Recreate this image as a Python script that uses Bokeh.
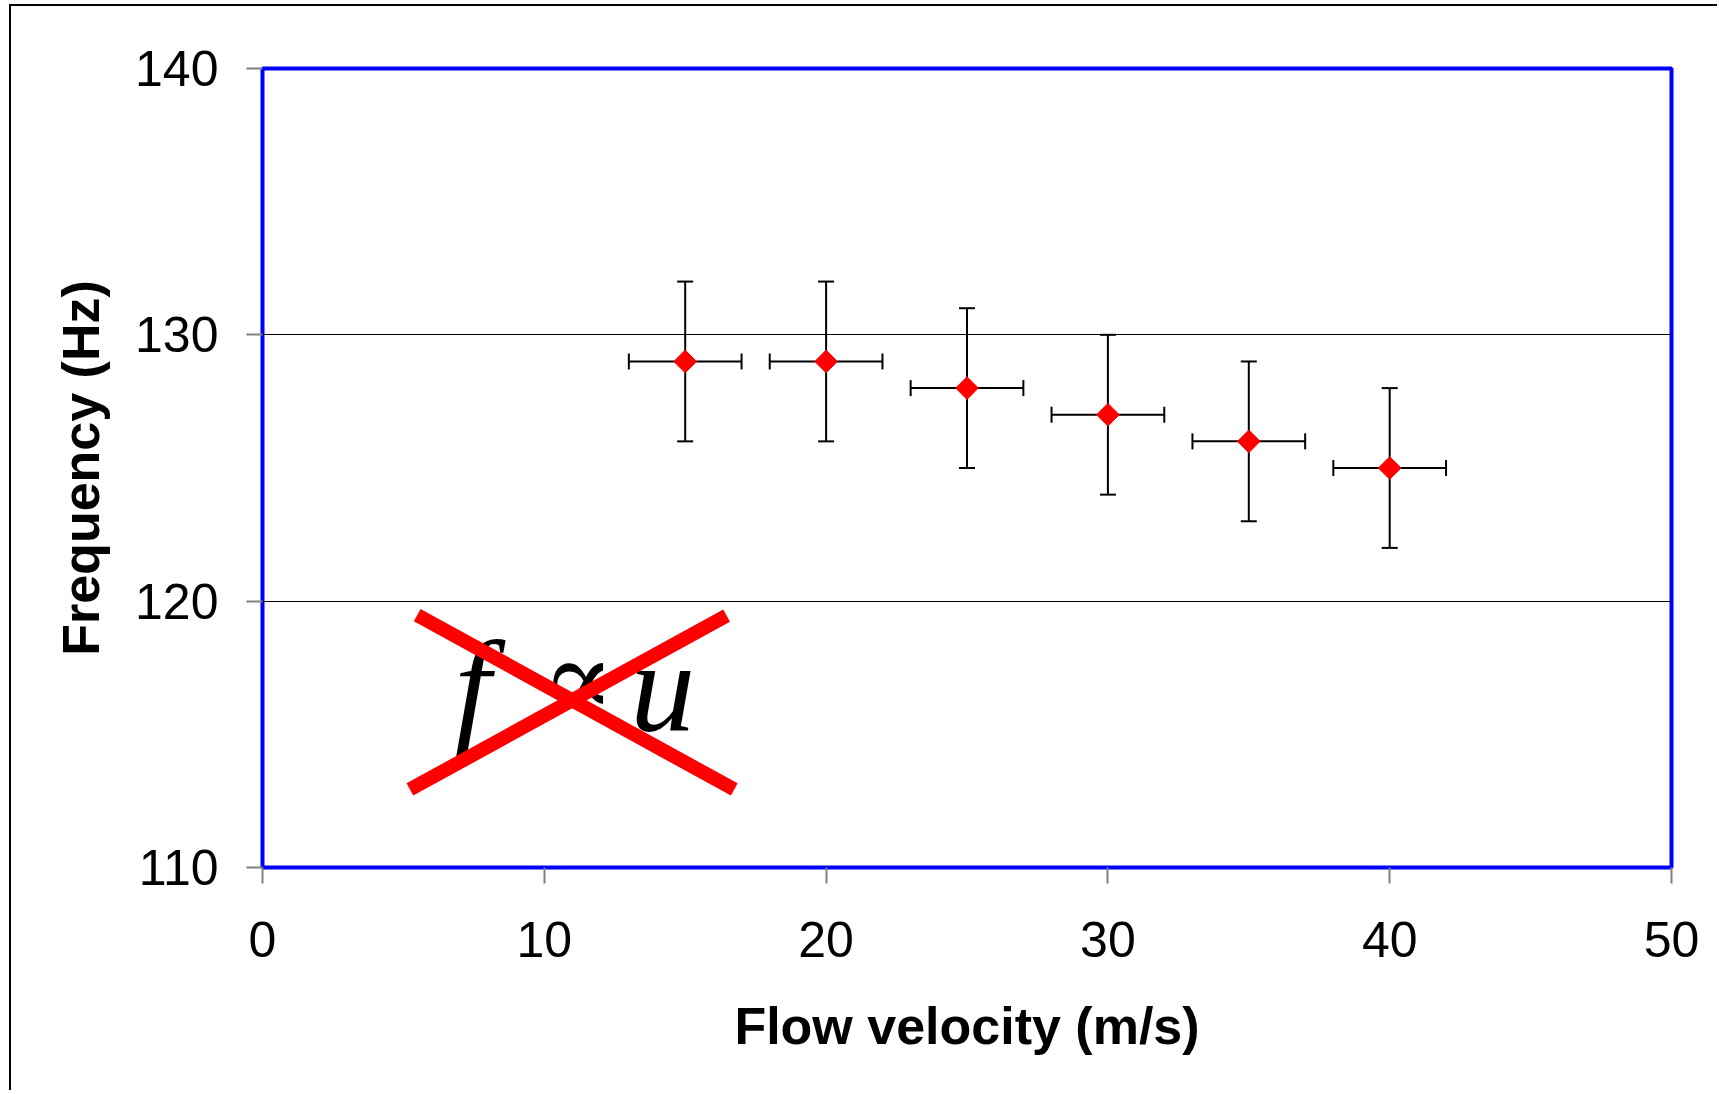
from bokeh.plotting import figure
from bokeh.models import ColumnDataSource, Whisker, TeeHead, FixedTicker, Range1d
from bokeh.core.properties import value
from bokeh.embed import file_html
from bokeh.resources import INLINE

# ---- data ----
velocity = [15, 20, 25, 30, 35, 40]
frequency = [129, 129, 128, 127, 126, 125]
freq_err = [3, 3, 3, 3, 3, 3]
vel_err = [2, 2, 2, 2, 2, 2]

x_ticks = [0, 10, 20, 30, 40, 50]
y_ticks = [110, 120, 130, 140]

# annotation "f ∝ u" crossed out
letter_text = ["f", "u"]
letter_x = [7.45, 14.2]
letter_y = [116.8, 116.8]
prop_text = ["\u221d"]
prop_x = [11.2]
prop_y = [117.1]
cross_x0 = [5.49, 5.23]
cross_y0 = [119.48, 112.93]
cross_x1 = [16.74, 16.47]
cross_y1 = [112.93, 119.46]

src = ColumnDataSource(data=dict(
    x=velocity, y=frequency,
    ylo=[f - e for f, e in zip(frequency, freq_err)],
    yhi=[f + e for f, e in zip(frequency, freq_err)],
    xlo=[v - e for v, e in zip(velocity, vel_err)],
    xhi=[v + e for v, e in zip(velocity, vel_err)],
))

p = figure(width=1708, height=1086, output_backend="svg", toolbar_location=None,
           x_range=Range1d(0, 50), y_range=Range1d(110, 140),
           min_border_left=251, min_border_right=48, min_border_top=62, min_border_bottom=225)
p.styles = {"margin-left": "9px", "margin-top": "4px",
            "border-left": "2px solid black", "border-top": "2px solid black"}

p.background_fill_color = "white"
p.border_fill_color = "white"
p.outline_line_color = "#0000FF"
p.outline_line_width = 4

p.xgrid.grid_line_color = None
p.ygrid.grid_line_color = "black"
p.ygrid.grid_line_width = 1

for ax in (p.xaxis[0], p.yaxis[0]):
    ax.axis_line_color = None
    ax.major_tick_line_color = "#808080"
    ax.major_tick_line_width = 2
    ax.major_tick_out = 16
    ax.major_tick_in = 0
    ax.minor_tick_line_color = None
    ax.major_label_text_font = "Liberation Sans"
    ax.major_label_text_font_size = "50px"
    ax.major_label_text_color = "black"
    ax.axis_label_text_font = "Liberation Sans"
    ax.axis_label_text_font_size = "52px"
    ax.axis_label_text_font_style = "bold"
    ax.axis_label_text_color = "black"

p.xaxis.major_label_standoff = 38
p.yaxis.major_label_standoff = 28
p.xaxis.ticker = FixedTicker(ticks=x_ticks)
p.yaxis.ticker = FixedTicker(ticks=y_ticks)
p.xaxis.axis_label = "Flow velocity (m/s)"
p.yaxis.axis_label = "Frequency (Hz)"
p.xaxis.axis_label_standoff = 37
p.yaxis.axis_label_standoff = 22

# error bars
vw = Whisker(source=src, base="x", lower="ylo", upper="yhi", dimension="height",
             line_color="black", line_width=2,
             upper_head=TeeHead(size=16, line_color="black", line_width=2),
             lower_head=TeeHead(size=16, line_color="black", line_width=2))
hw = Whisker(source=src, base="y", lower="xlo", upper="xhi", dimension="width",
             line_color="black", line_width=2,
             upper_head=TeeHead(size=16, line_color="black", line_width=2),
             lower_head=TeeHead(size=16, line_color="black", line_width=2))
p.add_layout(vw)
p.add_layout(hw)

p.scatter("x", "y", source=src, marker="square", angle=0.785398, size=16,
          fill_color="#FF0000", line_color="#FF0000", line_width=1)

# annotation text and red cross
p.text(x=letter_x, y=letter_y, text=letter_text, text_font=value("Liberation Serif"),
       text_font_style="italic", text_font_size="130px", text_color="black",
       text_align="center", text_baseline="alphabetic")
p.text(x=prop_x, y=prop_y, text=prop_text, text_font=value("DejaVu Serif"),
       text_font_size="108px", text_color="black",
       text_align="center", text_baseline="alphabetic")
p.segment(x0=cross_x0, y0=cross_y0, x1=cross_x1, y1=cross_y1,
          line_color="#FF0000", line_width=14, line_cap="butt")

open("out.html", "w").write(file_html(p, INLINE))
